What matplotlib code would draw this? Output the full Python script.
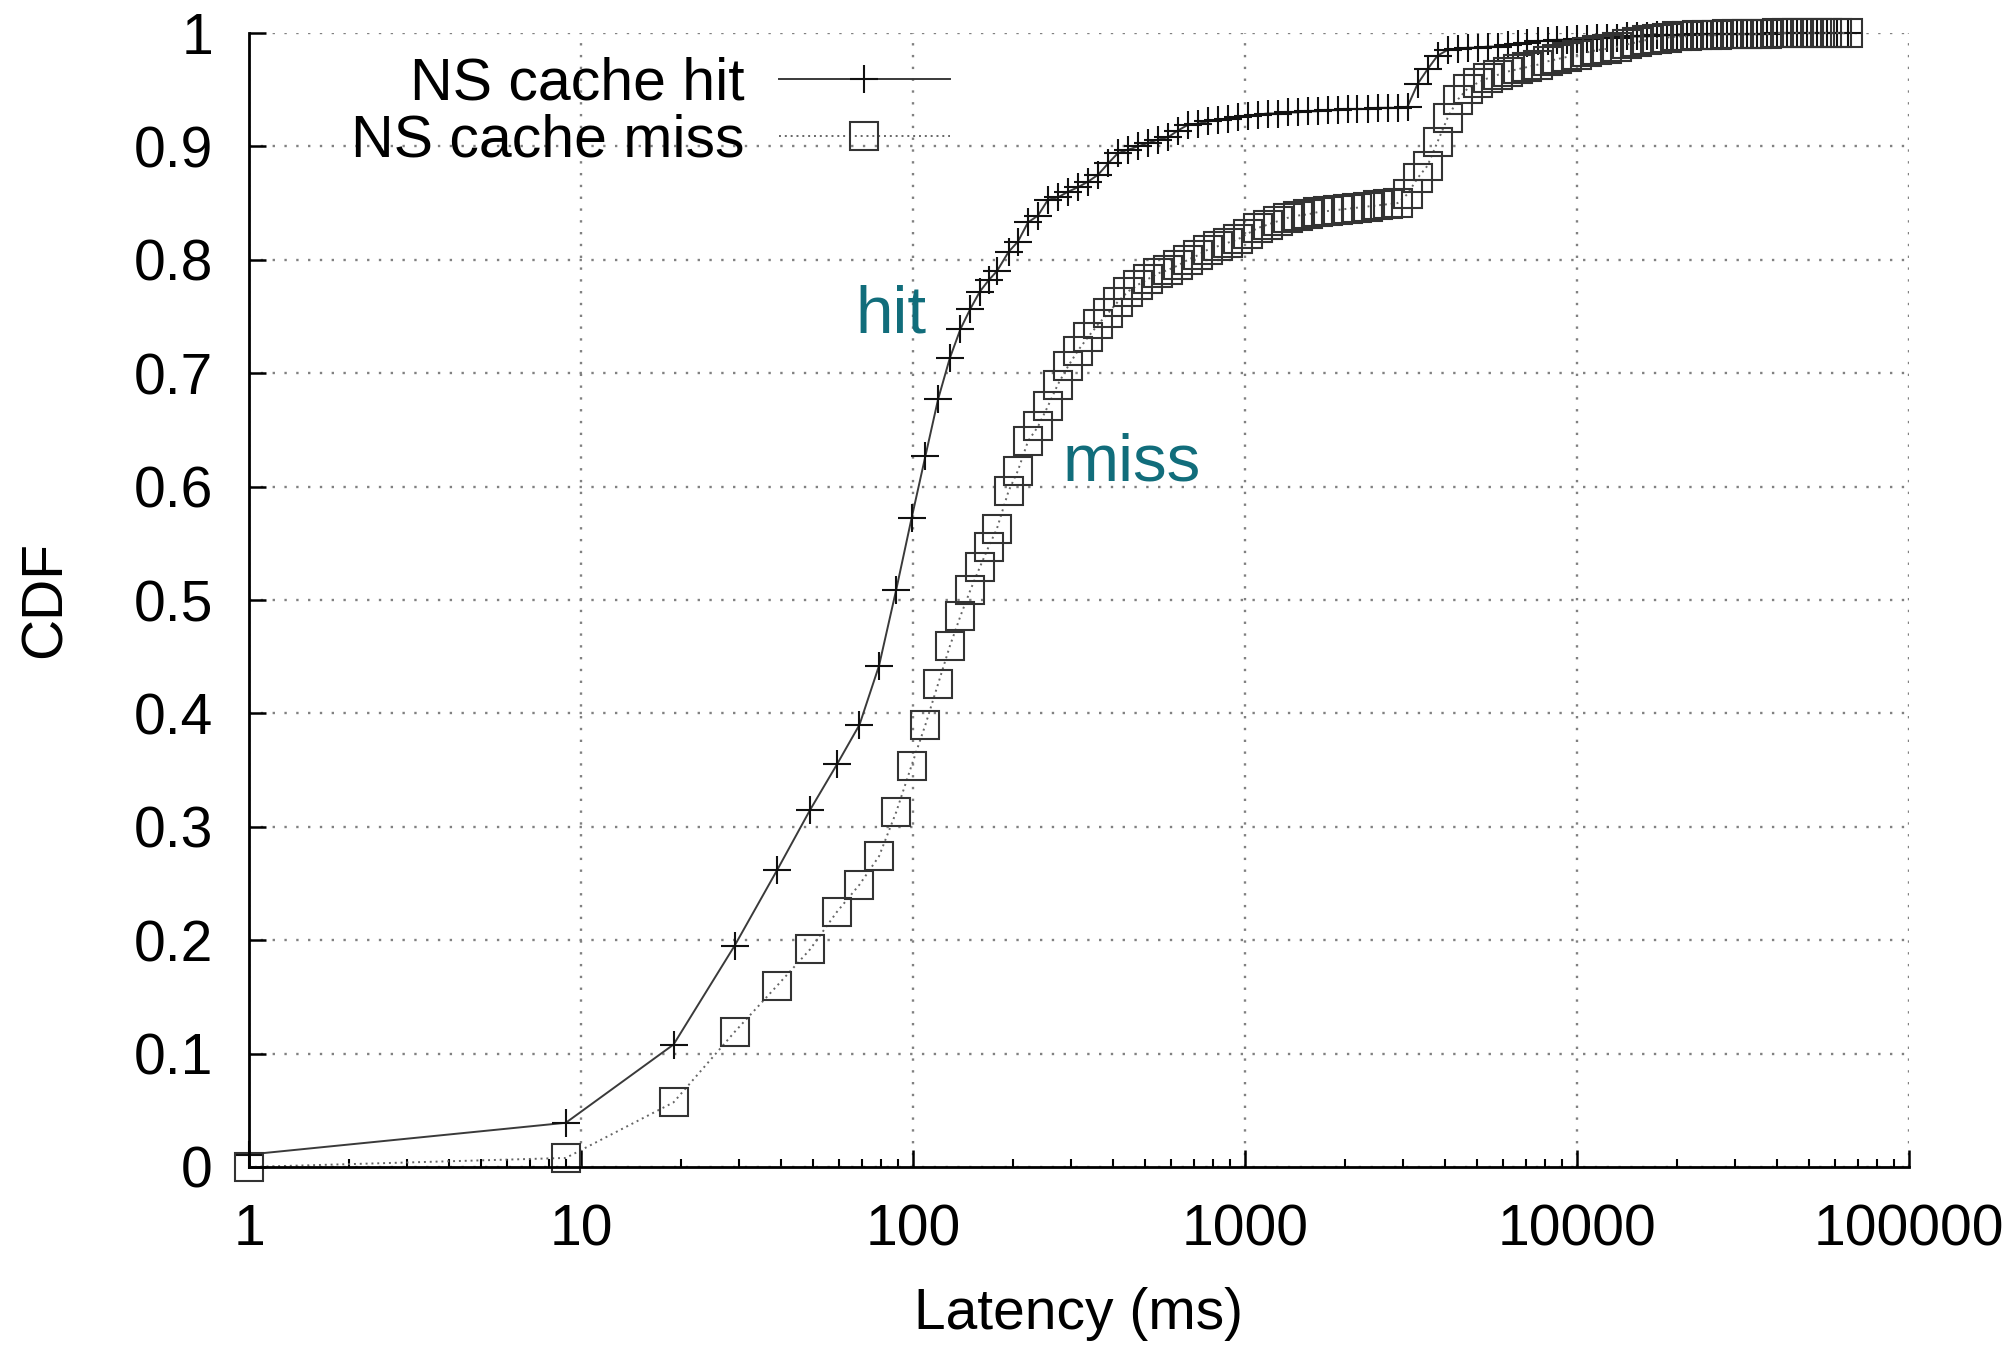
import matplotlib
matplotlib.use("Agg")
import matplotlib.pyplot as plt
from matplotlib.ticker import FixedLocator, FixedFormatter, LogLocator, NullFormatter

# ---------------- data ----------------
latency_ms = [1, 9, 19, 29, 39, 49, 59, 69, 79, 89,
              99, 109, 119, 129, 139, 149, 159, 169, 179, 194,
              207, 222, 238, 255, 273, 293, 314, 337, 361, 387,
              414, 444, 476, 510, 547, 586, 628, 673, 721, 773,
              828, 887, 951, 1019, 1092, 1170, 1254, 1344, 1440, 1543,
              1654, 1773, 1900, 2036, 2182, 2339, 2507, 2687, 2880, 3087,
              3309, 3546, 3801, 4074, 4366, 4680, 5016, 5376, 5762, 6176,
              6619, 7094, 7604, 8150, 8735, 9362, 10034, 10755, 11527, 12355,
              13242, 14193, 15212, 16304, 17475, 18730, 20075, 21516, 23061, 24717,
              26492, 28394, 30433, 32618, 34960, 37470, 40161, 43044, 46135, 49448,
              52998, 56804, 60882, 65535]

cdf_hit = [0.011, 0.039, 0.108, 0.195, 0.262, 0.315, 0.355, 0.390, 0.442, 0.509,
           0.572, 0.627, 0.677, 0.713, 0.739, 0.757, 0.772, 0.782, 0.790, 0.807,
           0.816, 0.833, 0.839, 0.853, 0.855, 0.860, 0.864, 0.869, 0.875, 0.885,
           0.894, 0.897, 0.900, 0.903, 0.906, 0.908, 0.914, 0.919, 0.920, 0.922,
           0.923, 0.924, 0.926, 0.927, 0.928, 0.929, 0.929, 0.930, 0.930, 0.931,
           0.931, 0.932, 0.932, 0.933, 0.933, 0.933, 0.934, 0.934, 0.934, 0.935,
           0.955, 0.968, 0.980, 0.985, 0.986, 0.987, 0.987, 0.988, 0.988, 0.989,
           0.990, 0.991, 0.993, 0.993, 0.994, 0.994, 0.995, 0.995, 0.996, 0.996,
           0.996, 0.997, 0.997, 0.997, 0.998, 0.998, 0.998, 0.998, 0.999, 0.999,
           0.999, 0.999, 0.999, 0.999, 0.999, 0.999, 1.000, 1.000, 1.000, 1.000,
           1.000, 1.000, 1.000, 1.000]

cdf_miss = [0.000, 0.008, 0.057, 0.119, 0.160, 0.192, 0.225, 0.249, 0.274, 0.313,
            0.354, 0.390, 0.426, 0.459, 0.486, 0.509, 0.529, 0.547, 0.563, 0.596,
            0.614, 0.640, 0.653, 0.671, 0.690, 0.706, 0.720, 0.732, 0.743, 0.753,
            0.763, 0.772, 0.778, 0.783, 0.788, 0.791, 0.795, 0.800, 0.804, 0.809,
            0.812, 0.815, 0.818, 0.823, 0.828, 0.831, 0.834, 0.837, 0.839, 0.840,
            0.842, 0.843, 0.844, 0.845, 0.846, 0.847, 0.848, 0.849, 0.850, 0.858,
            0.872, 0.883, 0.904, 0.925, 0.941, 0.951, 0.956, 0.960, 0.963, 0.966,
            0.968, 0.970, 0.972, 0.975, 0.977, 0.979, 0.981, 0.983, 0.985, 0.986,
            0.988, 0.990, 0.992, 0.994, 0.995, 0.996, 0.997, 0.997, 0.998, 0.998,
            0.998, 0.999, 0.999, 0.999, 0.999, 0.999, 1.000, 1.000, 1.000, 1.000,
            1.000, 1.000, 1.000, 1.000]

series_names = ["NS cache hit", "NS cache miss"]
annot_labels = ["hit", "miss"]
annot_pos = [(67, 0.736), (282, 0.605)]

x_ticks = [1, 10, 100, 1000, 10000, 100000]
x_tick_labels = ["1", "10", "100", "1000", "10000", "100000"]
y_ticks = [0, 0.1, 0.2, 0.3, 0.4, 0.5, 0.6, 0.7, 0.8, 0.9, 1.0]
y_tick_labels = ["0", "0.1", "0.2", "0.3", "0.4", "0.5", "0.6", "0.7", "0.8", "0.9", "1"]

x_label = "Latency (ms)"
y_label = "CDF"

# ---------------- style ----------------
plt.rcParams['font.family'] = ['Liberation Sans', 'DejaVu Sans']
FS = 41
LEG_FS = 42.5
TEAL = '#116d7b'

fig = plt.figure(figsize=(20.14, 13.46), dpi=100)
ax = fig.add_axes([249/2014, 1 - 1167/1346, (1909-249)/2014, (1167-33)/1346])

ax.set_xscale('log')
ax.set_xlim(1, 100000)
ax.set_ylim(0, 1)

# grid
ax.grid(True, which='major', color='#808080', linestyle=(0, (1, 4)), linewidth=1.7)
ax.set_axisbelow(True)

# curves
ax.plot(latency_ms, cdf_hit, color='#3a3a3a', linewidth=1.4, linestyle='-',
        marker='+', markersize=19.5, markeredgewidth=1.5, markeredgecolor='#111111',
        label=series_names[0], clip_on=False, zorder=3)
ax.plot(latency_ms, cdf_miss, color='#666666', linewidth=1.4, linestyle=(0, (1, 2)),
        marker='s', markersize=20, markeredgewidth=1.5, markerfacecolor='none',
        markeredgecolor='#333333', label=series_names[1], clip_on=False, zorder=3)

# spines
for s in ['top', 'right']:
    ax.spines[s].set_visible(False)
for s in ['left', 'bottom']:
    ax.spines[s].set_linewidth(2.0)
    ax.spines[s].set_color('black')
    ax.spines[s].set_zorder(4)

# ticks
ax.xaxis.set_major_locator(FixedLocator(x_ticks))
ax.xaxis.set_major_formatter(FixedFormatter(x_tick_labels))
ax.xaxis.set_minor_locator(LogLocator(base=10, subs=range(2, 10), numticks=20))
ax.xaxis.set_minor_formatter(NullFormatter())
ax.yaxis.set_major_locator(FixedLocator(y_ticks))
ax.yaxis.set_major_formatter(FixedFormatter(y_tick_labels))

ax.tick_params(axis='both', which='major', direction='in', length=12, width=1.8,
               labelsize=FS, top=False, right=False)
ax.tick_params(axis='x', which='minor', direction='in', length=6, width=1.5, top=False)
ax.tick_params(axis='x', which='major', pad=26)
ax.tick_params(axis='y', which='major', pad=26)

# labels
ax.set_xlabel(x_label, fontsize=FS)
ax.xaxis.set_label_coords(0.5, -0.106)
ax.set_ylabel(y_label, fontsize=FS)
ax.yaxis.set_label_coords(-0.106, 0.5)

# annotations
for lab, (xv, yv) in zip(annot_labels, annot_pos):
    ax.text(xv, yv, lab, color=TEAL, fontsize=48.5, ha='left', va='baseline', zorder=5)

# legend
leg = ax.legend(loc='upper right', bbox_to_anchor=(0.4223, 0.979), frameon=False,
                markerfirst=False, fontsize=LEG_FS, handlelength=2.9, handletextpad=0.58,
                borderpad=0, borderaxespad=0, labelspacing=0.03)

fig.savefig('out.png', dpi=100)
